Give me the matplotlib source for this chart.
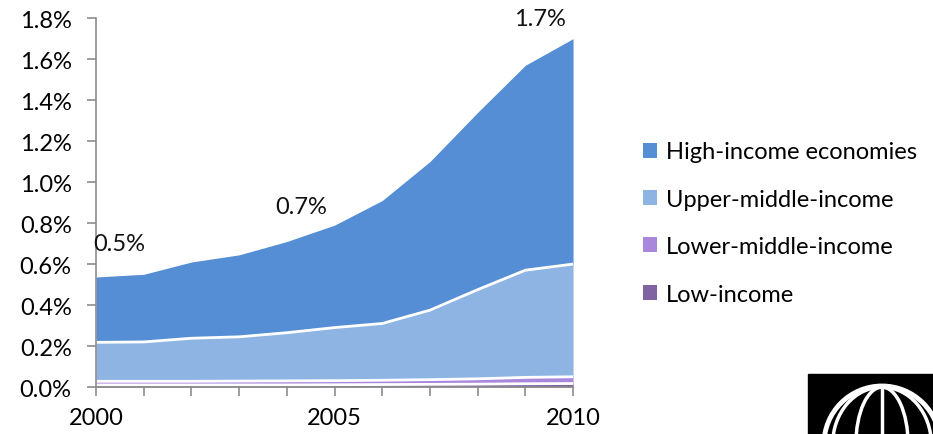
"""
Stacked area chart by income group, 2000-2010, with a bank logo in the corner.
"""

import matplotlib
matplotlib.use('Agg')
import matplotlib.pyplot as plt
import matplotlib.patches as patches
from matplotlib.ticker import FuncFormatter, MultipleLocator
import numpy as np

years = [2000, 2001, 2002, 2003, 2004, 2005, 2006, 2007, 2008, 2009, 2010]
# values in percent, per group (not cumulative)
low_income = [0.010, 0.010, 0.010, 0.010, 0.010, 0.011, 0.012, 0.013, 0.014, 0.016, 0.017]
lower_middle = [0.018, 0.018, 0.018, 0.019, 0.020, 0.020, 0.021, 0.023, 0.026, 0.031, 0.033]
upper_middle = [0.190, 0.192, 0.210, 0.216, 0.235, 0.259, 0.277, 0.339, 0.435, 0.523, 0.550]
high_income = [0.319, 0.330, 0.372, 0.400, 0.445, 0.500, 0.600, 0.725, 0.865, 1.000, 1.100]

series_names = ['Low-income', 'Lower-middle-income', 'Upper-middle-income', 'High-income economies']
colors = ['#8064a2', '#a987dc', '#8eb4e3', '#558ed5']

labels = ['0.5%', '0.7%', '1.7%']
label_years = [1999.94, 2004.3, 2009.31]
label_values = [0.70, 0.88, 1.80]

FS = 17


def main():
    plt.rcParams['font.family'] = ['Lato', 'DejaVu Sans']
    fig = plt.figure(figsize=(9.33, 4.35), dpi=100)
    ax = fig.add_axes([0.1029, 0.108, 0.5113, 0.848])

    x = np.array(years)
    layers = [np.array(low_income), np.array(lower_middle),
              np.array(upper_middle), np.array(high_income)]
    base = np.zeros(len(x))
    for i, vals in enumerate(layers):
        top = base + vals
        ax.fill_between(x, base, top, color=colors[i], linewidth=0, label=series_names[i])
        if i < len(layers) - 1:
            ax.plot(x, top, color='white', lw=2, solid_capstyle='butt')
        base = top

    for txt, yr, val in zip(labels, label_years, label_values):
        ha = 'left' if txt == '0.5%' else 'center'
        ax.text(yr, val, txt, ha=ha, va='center', fontsize=FS, color='#111111')

    ax.set_xlim(2000, 2010)
    ax.set_ylim(0, 1.8)
    ax.yaxis.set_major_locator(MultipleLocator(0.2))
    ax.yaxis.set_major_formatter(FuncFormatter(lambda v, p: '%.1f%%' % v))
    ax.set_xticks([2000, 2005, 2010])
    ax.set_xticks(years, minor=True)
    for s in ['top', 'right']:
        ax.spines[s].set_visible(False)
    for s in ['left', 'bottom']:
        ax.spines[s].set_color('#8c8c8c')
        ax.spines[s].set_linewidth(1.2)
    ax.tick_params(axis='y', which='major', direction='out', length=6.5, width=1.2,
                   color='#8c8c8c', labelsize=FS, pad=11)
    ax.tick_params(axis='x', which='both', direction='out', length=6.5, width=1.2,
                   color='#8c8c8c', labelsize=FS, pad=8)

    handles, lbls = ax.get_legend_handles_labels()
    fig.legend(handles[::-1], lbls[::-1], loc='center left',
               bbox_to_anchor=(0.666, 0.485), frameon=False, fontsize=FS,
               handlelength=0.6, handleheight=0.6, handletextpad=0.4,
               labelspacing=1.12)

    # logo, drawn in pixel coordinates
    lax = fig.add_axes([0, 0, 1, 1], zorder=5)
    lax.set_xlim(0, 933)
    lax.set_ylim(435, 0)
    lax.axis('off')
    lax.add_patch(patches.Rectangle((808, 375), 130, 70, color='black'))
    cx, cy, r = 882, 445, 58
    lax.add_patch(patches.Circle((cx, cy), r, fill=False, ec='white', lw=3.5))
    lax.add_patch(patches.Ellipse((cx, cy), 2 * r * 0.45, 2 * r * 0.98, fill=False, ec='white', lw=2.5))
    lax.add_patch(patches.Ellipse((cx, cy), 2 * r * 0.85, 2 * r * 0.98, fill=False, ec='white', lw=2.5))
    lax.plot([cx, cx], [cy - r, 435], color='white', lw=2.5)
    lax.add_patch(patches.Arc((cx, 520), 200, 250, theta1=55, theta2=125, ec='white', lw=2.5))

    plt.savefig('out.png', dpi=100)
    plt.close()


if __name__ == "__main__":
    main()
